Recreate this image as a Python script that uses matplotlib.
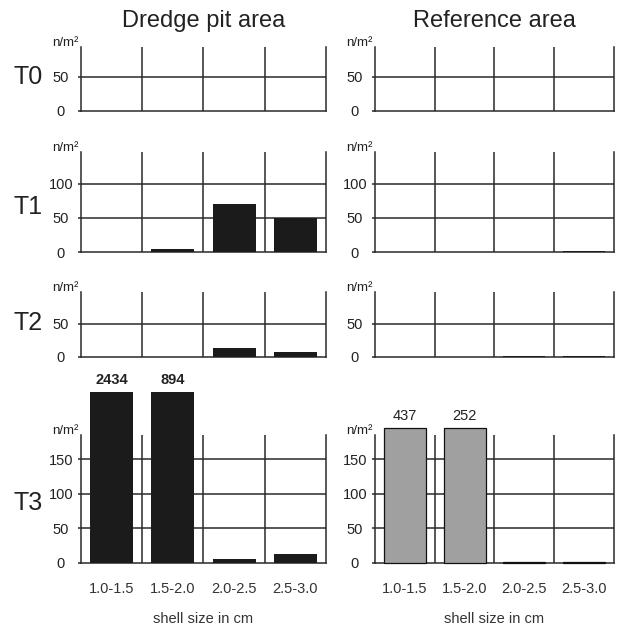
import matplotlib
matplotlib.use("Agg")
import matplotlib.pyplot as plt

plt.rcParams['font.family'] = ['Liberation Sans', 'DejaVu Sans']

# ---- data ----
categories = ["1.0-1.5", "1.5-2.0", "2.0-2.5", "2.5-3.0"]
rows = ["T0", "T1", "T2", "T3"]
columns = ["Dredge pit area", "Reference area"]

dredge_T0 = [0, 0, 0, 0]
dredge_T1 = [0, 4, 70, 50]
dredge_T2 = [0, 0, 14, 8]
dredge_T3 = [2434, 894, 6, 13]

ref_T0 = [0, 0, 0, 0]
ref_T1 = [0, 0, 0, 1]
ref_T2 = [0, 0, 2, 1]
ref_T3 = [437, 252, 1, 1]

yticks_T0 = [0, 50]
yticks_T1 = [0, 50, 100]
yticks_T2 = [0, 50]
yticks_T3 = [0, 50, 100, 150]

ymax_rows = [94, 147, 98, 185]
xlabel = "shell size in cm"
unit = "n/m²"

# ---- layout (pixels) ----
W, H = 619, 625
col_x = [(81, 326), (375, 614)]
row_y = [(47, 111), (152, 252), (292, 357), (435, 563)]
bar_caps = [247, 195]   # display cap for bars exceeding the axis
black = "#1b1b1b"
gray = "#a0a0a0"
line_c = "#2a2a2a"
txt_c = "#222222"

fig = plt.figure(figsize=(W / 100, H / 100), dpi=100)
fig.patch.set_facecolor("white")

data = [[dredge_T0, ref_T0], [dredge_T1, ref_T1], [dredge_T2, ref_T2], [dredge_T3, ref_T3]]
ticks = [yticks_T0, yticks_T1, yticks_T2, yticks_T3]

for r in range(4):
    top, bot = row_y[r]
    for c in range(2):
        x0, x1 = col_x[c]
        ax = fig.add_axes([x0 / W, 1 - bot / H, (x1 - x0) / W, (bot - top) / H])
        ax.set_xlim(-0.5, 3.5)
        ax.set_ylim(0, ymax_rows[r])
        vals = data[r][c]
        xs = list(range(len(categories)))
        shown = [min(v, bar_caps[c]) for v in vals]
        if r == 3 and c == 1:
            ax.bar(xs, shown, width=0.7, color=gray, edgecolor="#111111",
                   linewidth=0.9, zorder=3, clip_on=False)
        else:
            ax.bar(xs, shown, width=0.7, color=black, linewidth=0,
                   zorder=3, clip_on=False)
        # grid
        for t in ticks[r]:
            if t > 0:
                ax.axhline(t, color=line_c, lw=1.1, zorder=1)
        for b in [0.5, 1.5, 2.5]:
            ax.axvline(b, color=line_c, lw=1.1, zorder=1)
        ax.spines["top"].set_visible(False)
        for s in ["left", "right", "bottom"]:
            ax.spines[s].set_color(line_c)
            ax.spines[s].set_linewidth(1.1)
            ax.spines[s].set_zorder(2)
        ax.set_yticks(ticks[r])
        ax.set_yticklabels([str(t) for t in ticks[r]], fontsize=10.5, color=txt_c,
                           ha="center")
        ax.tick_params(axis="y", length=2.5, width=1.1, color=line_c, pad=12)
        ax.annotate(unit, (0, 1), xycoords="axes fraction", xytext=(-2, 0.5),
                    textcoords="offset points", ha="right", va="baseline",
                    fontsize=9.5, color=txt_c, annotation_clip=False)
        if r == 3:
            ax.set_xticks(xs)
            ax.set_xticklabels(categories, fontsize=10.5, color="#333333")
            ax.tick_params(axis="x", length=0, pad=14)
            ax.set_xlabel(xlabel, fontsize=10.5, color="#333333", labelpad=11)
            for i, v in enumerate(vals):
                if v > ymax_rows[r]:
                    ax.annotate(str(v), (i, shown[i]), xytext=(0, 4),
                                textcoords="offset points", ha="center", va="bottom",
                                fontsize=10.5, fontweight="bold" if c == 0 else "normal",
                                color=txt_c, annotation_clip=False)
        else:
            ax.set_xticks([])
        if r == 0:
            fig.text((x0 + x1) / 2 / W, 1 - 21 / H, columns[c], ha="center", va="center",
                     fontsize=17, color=txt_c)

row_label_y = [77, 207, 323, 503]
for r in range(4):
    fig.text(28 / W, 1 - row_label_y[r] / H, rows[r], ha="center", va="center",
             fontsize=18, color=txt_c)

fig.savefig("out.png", dpi=100, facecolor="white")
